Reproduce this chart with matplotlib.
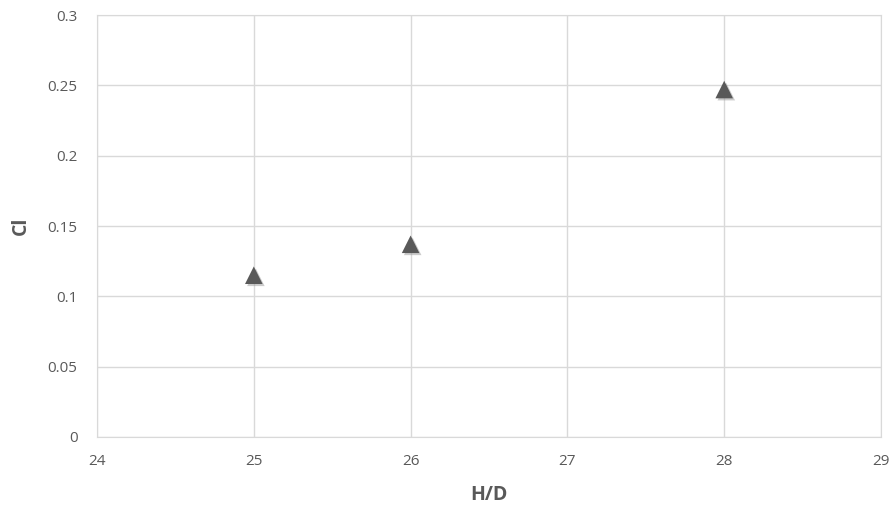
import matplotlib
matplotlib.use("Agg")
import matplotlib.pyplot as plt
import matplotlib.patheffects as pe

hd = [25, 26, 28]
cl = [0.115, 0.137, 0.247]
xticks = [24, 25, 26, 27, 28, 29]
yticks = [0, 0.05, 0.1, 0.15, 0.2, 0.25, 0.3]
ytick_labels = ["0", "0.05", "0.1", "0.15", "0.2", "0.25", "0.3"]

plt.rcParams['font.family'] = ['Open Sans', 'DejaVu Sans']
fig = plt.figure(figsize=(8.93, 5.08), dpi=100)
ax = fig.add_axes([97/893, 1-437/508, (881-97)/893, (437-15)/508])

ax.scatter(hd, cl, marker='^', s=160, color='#595959', zorder=3, linewidths=0,
           path_effects=[pe.SimplePatchShadow(offset=(1.5, -1.5), shadow_rgbFace='#999999', alpha=0.5), pe.Normal()])

ax.set_xlim(24, 29)
ax.set_ylim(0, 0.3)
ax.set_xticks(xticks)
ax.set_yticks(yticks)
ax.set_yticklabels(ytick_labels)
ax.grid(True, color='#d9d9d9', linewidth=1)
ax.set_axisbelow(True)
for s in ax.spines.values():
    s.set_color('#d9d9d9')
ax.tick_params(length=0, colors='#595959', labelsize=11)
ax.tick_params(axis='x', pad=12)
ax.tick_params(axis='y', pad=14)
ax.set_xlabel('H/D', fontsize=14, fontweight='bold', color='#595959', labelpad=12)
ax.set_ylabel('Cl', fontsize=14, fontweight='bold', color='#595959', labelpad=12)

fig.savefig('out.png', dpi=100)
